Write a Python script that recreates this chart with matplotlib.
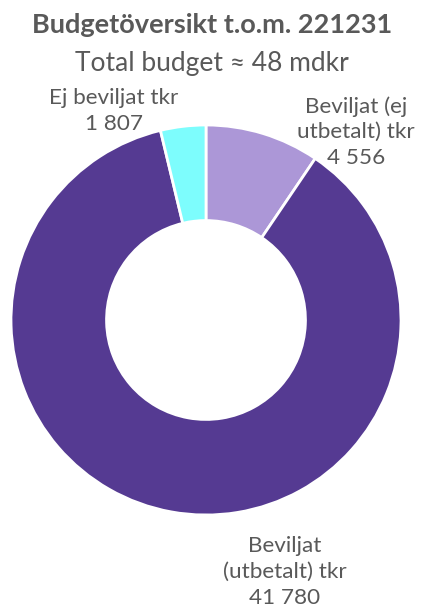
import matplotlib.pyplot as plt

labels = ["Beviljat (ej\nutbetalt) tkr", "Beviljat\n(utbetalt) tkr", "Ej beviljat tkr"]
values = [4556, 41780, 1807]
value_text = ["4 556", "41 780", "1 807"]
colors = ["#AC97D7", "#553A92", "#7DFDFD"]

W, H = 427, 615
fig = plt.figure(figsize=(W / 100, H / 100), dpi=100, facecolor="white")
plt.rcParams['font.family'] = ['Lato', 'DejaVu Sans']
txt = "#595959"

# donut: centre (206, 320) px, radius 195 px
cx, cy, r = 206, 320, 195
ax = fig.add_axes([(cx - r) / W, (H - cy - r) / H, 2 * r / W, 2 * r / H])
ax.pie(values, colors=colors, startangle=90, counterclock=False,
       wedgeprops=dict(width=0.49, edgecolor="white", linewidth=2))
ax.set_xlim(-1, 1)
ax.set_ylim(-1, 1)
ax.set_aspect("equal")
ax.axis("off")

def px(x, y):
    return x / W, 1 - y / H

fig.text(*px(212, 25), "Budgetöversikt t.o.m. 221231", ha="center", va="center",
         fontsize=19.5, fontweight="bold", color=txt)
fig.text(*px(212, 63), "Total budget \u2248 48 mdkr", ha="center", va="center",
         fontsize=19, color=txt)

fig.text(*px(114, 111), labels[2] + "\n" + value_text[2], ha="center", va="center",
         fontsize=16.2, color=txt, linespacing=1.35)
fig.text(*px(356, 132), labels[0] + "\n" + value_text[0], ha="center", va="center",
         fontsize=16.2, color=txt, linespacing=1.35)
fig.text(*px(285, 572), labels[1] + "\n" + value_text[1], ha="center", va="center",
         fontsize=16.2, color=txt, linespacing=1.35)

fig.savefig("out.png", dpi=100, facecolor="white")
